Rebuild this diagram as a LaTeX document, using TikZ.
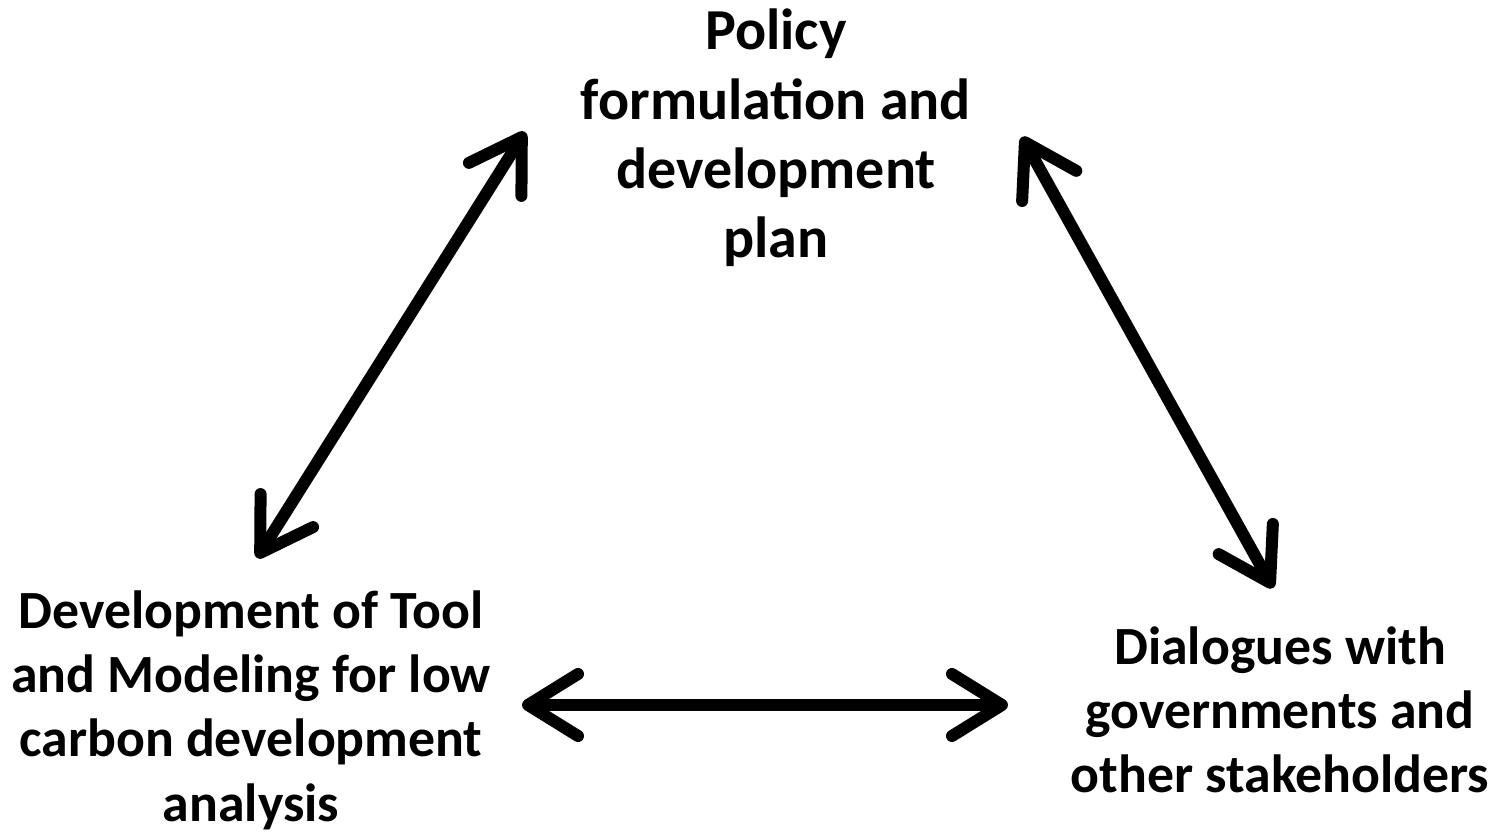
\documentclass[tikz,border=0pt]{standalone}
\usepackage{fontspec}
\setmainfont{Carlito}
\usetikzlibrary{arrows.meta,positioning}

\begin{document}
\begin{tikzpicture}[>={Straight Barb[length=0.5cm,width=0.62cm,line cap=round,line join=round]},
  label/.style={font=\bfseries\fontsize{15.3}{18.3}\selectfont, align=center, inner sep=0pt},
  link/.style={<->, line width=0.12cm, line cap=round}]
  \useasboundingbox (0,0) rectangle (14.97,8.32);

  % The three activities
  \node[label, font=\bfseries\fontsize{16.5}{19.7}\selectfont] (policy) at (7.76,6.94)
    {Policy\\formulation and\\development\\plan};
  \node[label] (tool) at (2.51,1.22)
    {Development of Tool\\and Modeling for low\\carbon development\\analysis};
  \node[label] (dialog) at (12.80,1.22)
    {Dialogues with\\governments and\\other stakeholders};

  % Arrow ends
  \coordinate (toolTop) at (2.57,2.74);
  \coordinate (policyLeft) at (5.25,7.00);
  \coordinate (policyRight) at (10.22,6.95);
  \coordinate (dialogTop) at (12.73,2.44);
  \coordinate (toolRight) at (5.22,1.27);
  \coordinate (dialogLeft) at (10.08,1.27);

  % Two-way links
  \draw[link] (toolTop) -- (policyLeft);
  \draw[link] (policyRight) -- (dialogTop);
  \draw[link] (toolRight) -- (dialogLeft);
\end{tikzpicture}
\end{document}
